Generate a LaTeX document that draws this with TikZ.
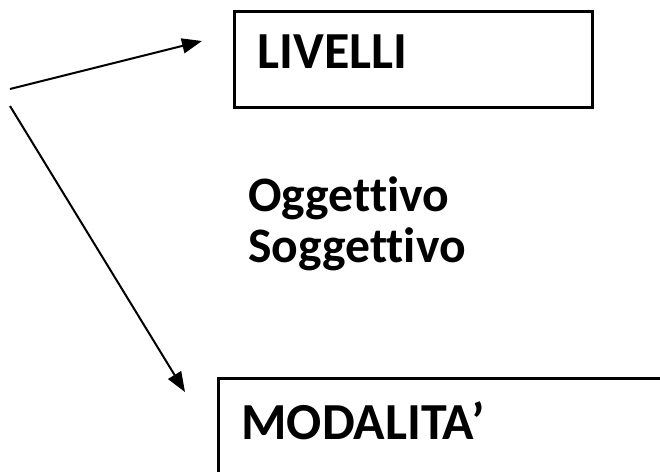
\documentclass[tikz,border=0pt]{standalone}
\usepackage{fontspec}
\setmainfont{Carlito}[Ligatures={NoCommon}]
\usetikzlibrary{arrows.meta}

\begin{document}
\begin{tikzpicture}[
		x=0.5pt, y=-0.5pt,
		titlebox/.style={rectangle, draw, line width=1.5pt, anchor=north west, align=left, inner ysep=0pt, inner xsep=11.5pt, font=\fontsize{26}{31}\selectfont\bfseries},
		plaintext/.style={anchor=north west, align=left, inner sep=0pt, font=\fontsize{24.8}{25.5}\selectfont\bfseries},
		>={Triangle[length=10pt, width=7.5pt]}
	]
	\useasboundingbox (0,0) rectangle (660,472);
	\clip (0,0) rectangle (660,472);

	\node[titlebox, minimum width=179pt, minimum height=48pt, text width=156pt, text depth=7.5pt] (livelli) at (233,10) {LIVELLI};
	\node[titlebox, minimum width=250pt, minimum height=61.5pt, text width=227pt, text depth=19pt] (modalita) at (217,377) {MODALITA’};
	\node[plaintext] (tipi) at (248,176) {Oggettivo\\Soggettivo};

	\coordinate (lstart) at (10,89);
	\coordinate (lend) at (202,41);
	\coordinate (mstart) at (10,106);
	\coordinate (mend) at (185,392);

	\foreach \i/\j in {lstart/lend, mstart/mend}
		\draw[->, line width=1pt] (\i) -- (\j);

\end{tikzpicture}
\end{document}
